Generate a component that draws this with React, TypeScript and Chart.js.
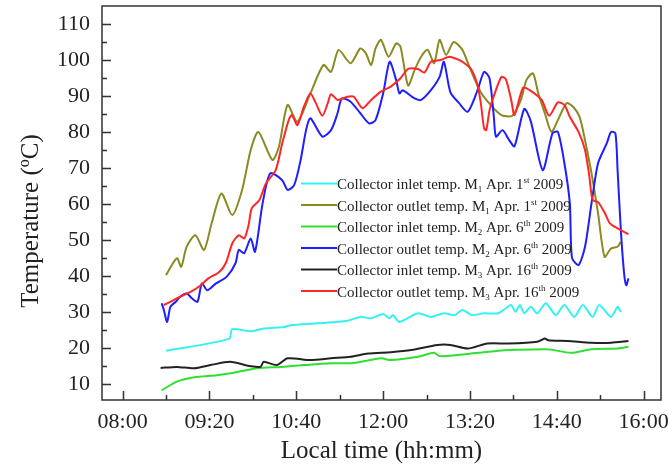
import React, { useEffect, useRef } from "react";
import { Chart, registerables } from "chart.js";

Chart.register(...registerables);

const SERIF = "'Liberation Serif', 'Times New Roman', Times, serif";
const INK = "#222222";

// ---- axes ----
const xTickLabels = ["08:00", "09:20", "10:40", "12:00", "13:20", "14:40", "16:00"];
const xRange = ["07:41", "16:16"];
const yTickValues = [10, 20, 30, 40, 50, 60, 70, 80, 90, 100, 110];
const yRange = [5.5, 115];

// ---- legend text parts ----
const seriesKinds = ["inlet", "outlet", "inlet", "outlet", "inlet", "outlet"];
const seriesModules = ["1", "1", "2", "2", "3", "3"];
const seriesDays = ["1", "1", "6", "6", "16", "16"];
const seriesDaySuffix = ["st", "st", "th", "th", "th", "th"];
const seriesColors = ["#35f2f2", "#8a8a22", "#30e030", "#1e1eff", "#222222", "#ff2626"];

// ---- series: [local time, temperature °C] ----
const m1Inlet: [string, number][] = [
  ["08:40", 19.2], ["09:38", 22.5], ["09:41", 25.2], ["09:58", 24.6], ["10:10", 25.4], ["10:29", 25.8],
  ["10:35", 26.3], ["11:00", 26.8], ["11:27", 27.5], ["11:39", 28.6], ["11:49", 28.2], ["12:00", 29.4],
  ["12:06", 28.2], ["12:09", 29.1], ["12:15", 27.2], ["12:32", 29.6], ["12:44", 28.6], ["12:56", 29.6],
  ["13:06", 29.1], ["13:13", 30.5], ["13:22", 29.1], ["13:33", 29.6], ["13:46", 29.6], ["13:53", 31],
  ["13:58", 31.9], ["14:02", 30], ["14:06", 31.9], ["14:10", 29.6], ["14:16", 31.4], ["14:22", 29.6],
  ["14:30", 32.4], ["14:39", 29.1], ["14:47", 31.9], ["14:56", 28.6], ["15:04", 31.9], ["15:13", 28.6],
  ["15:19", 31.9], ["15:30", 28.6], ["15:36", 31.4], ["15:39", 30],
];

const m1Outlet: [string, number][] = [
  ["08:40", 40.2], ["08:50", 44.9], ["08:54", 42.5], ["08:59", 48.1], ["09:07", 51.3], ["09:15", 47.2],
  ["09:22", 54.6], ["09:31", 62.9], ["09:41", 56.9], ["09:50", 63.8], ["09:58", 75], ["10:05", 80],
  ["10:18", 72.2], ["10:24", 75.9], ["10:32", 87.5], ["10:41", 82.8], ["10:53", 90.7], ["11:05", 98.6],
  ["11:12", 96.7], ["11:19", 102.8], ["11:30", 99.1], ["11:39", 103.2], ["11:44", 101.9], ["11:49", 98.6],
  ["11:53", 103.2], ["11:58", 105.6], ["12:05", 100.9], ["12:12", 104.6], ["12:16", 103.7], ["12:23", 92.9],
  ["12:29", 97.2], ["12:35", 100.9], ["12:41", 102.8], ["12:47", 99.1], ["12:52", 105.6], ["12:58", 101.4],
  ["13:05", 105], ["13:13", 102.8], ["13:20", 97.7], ["13:30", 91], ["13:39", 87.5], ["13:49", 84.7],
  ["13:59", 84.5], ["14:07", 89], ["14:12", 94.4], ["14:18", 96.3], ["14:23", 90.7], ["14:29", 85.2],
  ["14:35", 80], ["14:41", 83.3], ["14:49", 88], ["14:55", 87], ["15:01", 84.2], ["15:06", 77.7],
  ["15:12", 68.5], ["15:18", 57.4], ["15:24", 45.3], ["15:30", 47.6], ["15:36", 48.1], ["15:39", 49.5],
];

const m2Inlet: [string, number][] = [
  ["08:36", 8.2], ["08:50", 10.6], ["09:06", 11.8], ["09:27", 12.4], ["09:46", 13.3], ["10:04", 14.3],
  ["10:26", 14.7], ["10:47", 15.2], ["11:12", 15.7], ["11:33", 15.8], ["11:58", 17.1], ["12:07", 16.6],
  ["12:32", 17.5], ["12:47", 18.6], ["12:52", 17.7], ["13:09", 18], ["13:27", 18.6], ["13:55", 19.4],
  ["14:29", 19.6], ["14:35", 19.5], ["14:53", 18.6], ["15:12", 19.6], ["15:36", 19.8], ["15:46", 20.3],
];

const m2Outlet: [string, number][] = [
  ["08:36", 32.4], ["08:38", 30.5], ["08:41", 27.2], ["08:44", 31.4], ["08:49", 32.8], ["08:53", 34.2],
  ["08:59", 35.1], ["09:04", 33.7], ["09:09", 32.8], ["09:13", 37.9], ["09:18", 36], ["09:26", 37.9],
  ["09:36", 39.8], ["09:44", 43.5], ["09:47", 47.2], ["09:52", 46.3], ["09:58", 50.4], ["10:02", 46.7],
  ["10:09", 60.2], ["10:16", 68.5], ["10:27", 66.6], ["10:32", 63.9], ["10:38", 65.2], ["10:44", 72.2],
  ["10:49", 80.5], ["10:53", 83.8], ["11:04", 78.7], ["11:12", 80.5], ["11:18", 85.2], ["11:22", 89.3],
  ["11:30", 88.4], ["11:39", 85.2], ["11:47", 82.4], ["11:53", 83.3], ["12:00", 90.7], ["12:06", 99.5],
  ["12:12", 94.4], ["12:15", 90.7], ["12:18", 91.6], ["12:29", 89.3], ["12:35", 88.9], ["12:44", 91.6],
  ["12:52", 95.3], ["12:56", 99.5], ["13:02", 91], ["13:10", 88], ["13:18", 85.6], ["13:27", 91.6],
  ["13:33", 96.7], ["13:38", 94.9], ["13:42", 84.2], ["13:44", 78.7], ["13:50", 80.5], ["13:56", 77.8],
  ["14:01", 76], ["14:10", 86.4], ["14:16", 83], ["14:27", 69.4], ["14:36", 79.6], ["14:41", 80],
  ["14:47", 71.3], ["14:52", 60.2], ["14:54", 45], ["15:00", 43], ["15:06", 48.1], ["15:12", 60.2],
  ["15:18", 71.3], ["15:26", 76.8], ["15:30", 80], ["15:34", 79.6], ["15:36", 69.4], ["15:39", 52.7],
  ["15:42", 40.7], ["15:44", 37.4], ["15:46", 39.3],
];

const m3Inlet: [string, number][] = [
  ["08:35", 14.4], ["08:50", 14.7], ["09:06", 14.3], ["09:21", 15.2], ["09:39", 16.1], ["09:58", 14.9],
  ["10:07", 14.7], ["10:10", 16.1], ["10:22", 15.2], ["10:32", 17.1], ["10:53", 16.6], ["11:12", 17.1],
  ["11:30", 17.5], ["11:46", 18.4], ["12:07", 18.8], ["12:26", 19.4], ["12:50", 20.8], ["13:02", 20.8],
  ["13:18", 19.8], ["13:36", 21.2], ["13:55", 21.2], ["14:22", 21.7], ["14:29", 22.6], ["14:32", 22.1],
  ["14:50", 21.9], ["15:12", 21.4], ["15:30", 21.4], ["15:46", 21.9],
];

const m3Outlet: [string, number][] = [
  ["08:38", 31.9], ["08:44", 32.8], ["08:53", 34.2], ["09:03", 35.6], ["09:12", 37.4], ["09:19", 39.3],
  ["09:29", 41.1], ["09:35", 43.5], ["09:41", 49], ["09:47", 51.3], ["09:52", 50.4], ["09:56", 54.1],
  ["09:59", 58.8], ["10:06", 61.1], ["10:12", 65.7], ["10:21", 69.4], ["10:27", 76.8], ["10:33", 83.3],
  ["10:36", 84.7], ["10:41", 81.9], ["10:47", 87], ["10:53", 90.7], ["10:58", 88], ["11:04", 84.5],
  ["11:09", 88], ["11:12", 90.5], ["11:18", 88.9], ["11:27", 89.8], ["11:33", 89.8], ["11:41", 86.6],
  ["11:49", 88.9], ["11:58", 91.2], ["12:07", 92.6], ["12:16", 94.9], ["12:23", 97.5], ["12:32", 97.5],
  ["12:38", 96.5], ["12:44", 99.5], ["12:53", 100], ["13:01", 100.9], ["13:10", 100], ["13:15", 99.1],
  ["13:21", 97.5], ["13:27", 93], ["13:30", 88], ["13:33", 81], ["13:35", 80.5], ["13:38", 86],
  ["13:42", 90], ["13:49", 95.3], ["13:53", 94.7], ["13:58", 88.9], ["14:01", 84.7], ["14:09", 92.3],
  ["14:16", 91.4], ["14:26", 88.9], ["14:33", 84.5], ["14:41", 88.2], ["14:47", 87.5], ["14:52", 84.2],
  ["15:00", 80], ["15:06", 75], ["15:10", 67.6], ["15:13", 61.1], ["15:18", 60.5], ["15:24", 57.6],
  ["15:29", 54.6], ["15:36", 53.2], ["15:46", 51.6],
];

const allSeries = [m1Inlet, m1Outlet, m2Inlet, m2Outlet, m3Inlet, m3Outlet];

const toMin = (s: string) => {
  const [h, m] = s.split(":").map(Number);
  return h * 60 + m;
};
const toHHMM = (v: number) => {
  const h = Math.floor(v / 60);
  const m = Math.round(v - h * 60);
  return `${String(h).padStart(2, "0")}:${String(m).padStart(2, "0")}`;
};

type Part = { t: string; k: "n" | "sub" | "sup" };

function drawRich(ctx: CanvasRenderingContext2D, x: number, y: number, parts: Part[], size: number) {
  let cx = x;
  ctx.textAlign = "left";
  ctx.textBaseline = "alphabetic";
  for (const p of parts) {
    const s = p.k === "n" ? size : Math.round(size * 0.62);
    ctx.font = `${s}px ${SERIF}`;
    const dy = p.k === "sub" ? size * 0.22 : p.k === "sup" ? -size * 0.38 : 0;
    ctx.fillText(p.t, cx, y + dy);
    cx += ctx.measureText(p.t).width;
  }
  return cx - x;
}

const decorPlugin = {
  id: "decor",
  afterDraw(chart: any) {
    const { ctx, chartArea } = chart;
    const xs = chart.scales.x;
    const ys = chart.scales.y;
    ctx.save();
    // frame
    ctx.strokeStyle = "#333333";
    ctx.lineWidth = 1.5;
    ctx.strokeRect(chartArea.left, chartArea.top, chartArea.right - chartArea.left, chartArea.bottom - chartArea.top);
    // inward ticks
    ctx.beginPath();
    const xMajor = xTickLabels.map(toMin);
    for (const v of xMajor) {
      for (const [val, len] of [[v, 9], [v + 40, 5]] as [number, number][]) {
        if (val <= xs.min || val >= xs.max) continue;
        const px = Math.round(xs.getPixelForValue(val)) + 0.5;
        ctx.moveTo(px, chartArea.bottom);
        ctx.lineTo(px, chartArea.bottom - len);
      }
    }
    for (const v of yTickValues) {
      for (const [val, len] of [[v, 9], [v + 5, 5]] as [number, number][]) {
        if (val <= ys.min || val >= ys.max) continue;
        const py = Math.round(ys.getPixelForValue(val)) + 0.5;
        ctx.moveTo(chartArea.left, py);
        ctx.lineTo(chartArea.left + len, py);
      }
    }
    ctx.stroke();

    // legend inside the plot
    const lx = chartArea.left + 199;
    const ly0 = chartArea.top + 177.5;
    chart.data.datasets.forEach((ds: any, i: number) => {
      const y = ly0 + i * 21.5;
      ctx.strokeStyle = ds.borderColor;
      ctx.lineWidth = 2;
      ctx.beginPath();
      ctx.moveTo(lx, y);
      ctx.lineTo(lx + 36, y);
      ctx.stroke();
      ctx.fillStyle = INK;
      drawRich(ctx, lx + 36, y + 5.5, ds.parts, 15);
    });

    // y-axis title with superscript o
    ctx.translate(38, 221);
    ctx.rotate(-Math.PI / 2);
    ctx.fillStyle = INK;
    const tParts: Part[] = [
      { t: "Temperature (", k: "n" },
      { t: "o", k: "sup" },
      { t: "C)", k: "n" },
    ];
    ctx.font = `25px ${SERIF}`;
    const w1 = ctx.measureText("Temperature (").width + ctx.measureText("C)").width;
    ctx.font = `${Math.round(25 * 0.62)}px ${SERIF}`;
    const w2 = ctx.measureText("o").width;
    drawRich(ctx, -(w1 + w2) / 2, 0, tParts, 25);
    ctx.restore();
  },
};

export default function App() {
  const ref = useRef<HTMLCanvasElement>(null);

  useEffect(() => {
    if (!ref.current) return;
    const datasets = allSeries.map((arr, i) => ({
      label: `Collector ${seriesKinds[i]} temp. M${seriesModules[i]} Apr. ${seriesDays[i]}${seriesDaySuffix[i]} 2009`,
      parts: [
        { t: `Collector ${seriesKinds[i]} temp. M`, k: "n" },
        { t: seriesModules[i], k: "sub" },
        { t: ` Apr. ${seriesDays[i]}`, k: "n" },
        { t: seriesDaySuffix[i], k: "sup" },
        { t: " 2009", k: "n" },
      ],
      data: arr.map(([t, v]) => ({ x: toMin(t), y: v })),
      borderColor: seriesColors[i],
      backgroundColor: seriesColors[i],
      borderWidth: 2,
      pointRadius: 0,
      tension: 0.25,
      fill: false,
      order: 6 - i,
    }));

    const chart = new Chart(ref.current, {
      type: "line",
      data: { datasets } as any,
      plugins: [decorPlugin],
      options: {
        animation: false,
        responsive: false,
        devicePixelRatio: 1,
        layout: { padding: { left: 0, top: 6, right: 7, bottom: 0 } },
        plugins: { legend: { display: false }, tooltip: { enabled: false } },
        scales: {
          x: {
            type: "linear",
            min: toMin(xRange[0]),
            max: toMin(xRange[1]),
            afterBuildTicks: (s: any) => {
              s.ticks = xTickLabels.map((l) => ({ value: toMin(l) }));
            },
            afterFit: (s: any) => {
              s.height = 68;
              s.paddingLeft = 0;
              s.paddingRight = 0;
              s.paddingTop = 0;
              s.paddingBottom = 0;
            },
            grid: { display: false, drawTicks: false },
            border: { display: false },
            ticks: {
              autoSkip: false,
              maxRotation: 0,
              padding: 9,
              color: INK,
              font: { family: SERIF, size: 22 },
              callback: (v: any) => toHHMM(Number(v)),
            },
            title: {
              display: true,
              text: "Local time (hh:mm)",
              color: INK,
              font: { family: SERIF, size: 25 },
              padding: { top: 0, bottom: 2 },
            },
          },
          y: {
            type: "linear",
            min: yRange[0],
            max: yRange[1],
            afterBuildTicks: (s: any) => {
              s.ticks = yTickValues.map((v) => ({ value: v }));
            },
            afterFit: (s: any) => {
              s.width = 102;
              s.paddingLeft = 0;
              s.paddingRight = 0;
              s.paddingTop = 0;
              s.paddingBottom = 0;
            },
            grid: { display: false, drawTicks: false },
            border: { display: false },
            ticks: {
              padding: 12,
              color: INK,
              font: { family: SERIF, size: 22 },
            },
          },
        },
      } as any,
    });
    return () => chart.destroy();
  }, []);

  return (
    <div style={{ position: "absolute", left: 0, top: 0, width: 668, height: 468, background: "#ffffff" }}>
      <canvas ref={ref} width={668} height={468} style={{ display: "block" }} />
    </div>
  );
}
